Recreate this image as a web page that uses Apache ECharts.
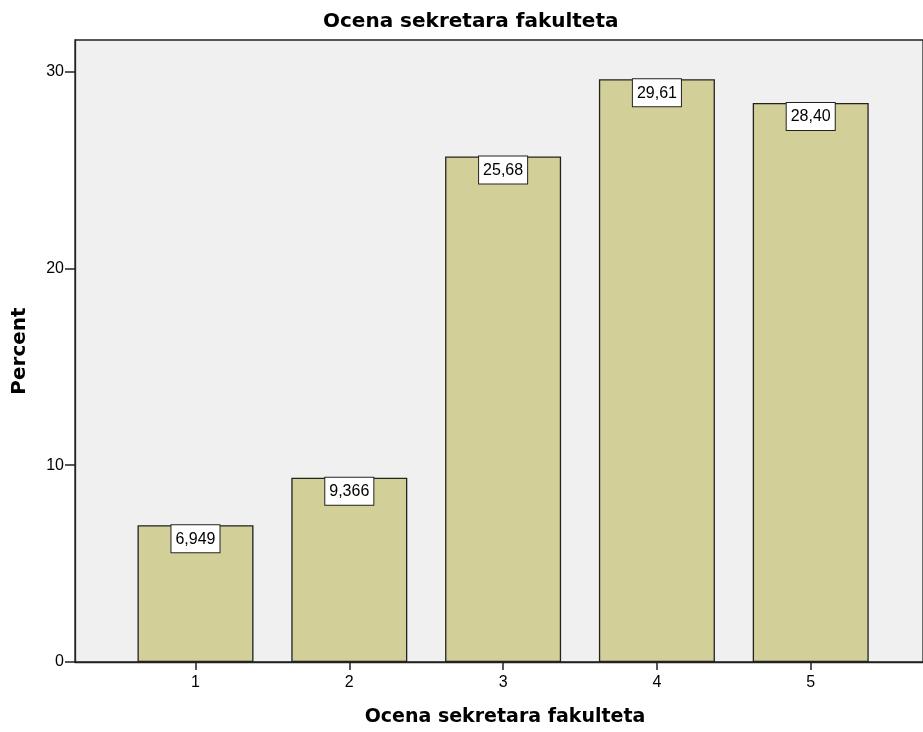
<!DOCTYPE html>
<html>
<head>
<meta charset="utf-8">
<script src="https://cdn.jsdelivr.net/npm/echarts@6/dist/echarts.min.js"></script>
<style>
html,body{margin:0;padding:0;background:#fff;}
#chart{width:923px;height:732px;}
</style>
</head>
<body>
<div id="chart"></div>
<script>
var categories = [1, 2, 3, 4, 5];
var percents = [6.949, 9.366, 25.68, 29.61, 28.40];
var yTicks = [0, 10, 20, 30];
var titleText = 'Ocena sekretara fakulteta';
var xTitle = 'Ocena sekretara fakulteta';
var yTitle = 'Percent';

var FONT = 'Liberation Sans, Arial, sans-serif';
var BOLD = 'DejaVu Sans, Liberation Sans, sans-serif';
var chart = echarts.init(document.getElementById('chart'));
var seriesData = categories.map(function (c, i) { return [c, percents[i]]; });

chart.setOption({
  animation: false,
  backgroundColor: '#ffffff',
  title: {
    text: titleText,
    left: 318,
    top: 7,
    textStyle: { fontFamily: BOLD, fontSize: 20, fontWeight: 'bold', color: '#000' }
  },
  grid: {
    left: 75, top: 40, right: -5, bottom: 68.5,
    show: true, backgroundColor: '#f0f0f0', borderColor: '#222', borderWidth: 1.3,
    containLabel: false
  },
  xAxis: {
    type: 'value',
    min: 0.2166,
    max: 5.73,
    name: xTitle,
    nameLocation: 'middle',
    nameGap: 46,
    nameTextStyle: { fontFamily: BOLD, fontSize: 19, fontWeight: 'bold', color: '#000', padding: [0, 0, 0, 12] },
    axisLine: { show: true, onZero: false, lineStyle: { color: '#222', width: 1.3 } },
    axisTick: { show: true, customValues: categories, length: 8, lineStyle: { color: '#222', width: 1.5 } },
    axisLabel: { customValues: categories, fontFamily: FONT, fontSize: 16, color: '#000', margin: 13 },
    splitLine: { show: false }
  },
  yAxis: {
    type: 'value',
    min: 0,
    max: 31.6,
    name: yTitle,
    nameLocation: 'middle',
    nameGap: 45,
    nameRotate: 90,
    nameTextStyle: { fontFamily: BOLD, fontSize: 20, fontWeight: 'bold', color: '#000' },
    axisLine: { show: true, lineStyle: { color: '#222', width: 1.3 } },
    axisTick: { show: true, customValues: yTicks, length: 10, lineStyle: { color: '#222', width: 1.5 } },
    axisLabel: { customValues: yTicks, fontFamily: FONT, fontSize: 16, color: '#000', margin: 11 },
    splitLine: { show: false }
  },
  series: [{
    type: 'bar',
    data: seriesData,
    barWidth: 116,
    itemStyle: { color: '#d3cf98', borderColor: '#222', borderWidth: 1.3 },
    label: {
      show: true,
      position: 'insideTop',
      distance: 0,
      formatter: function (p) { return p.value[1].toPrecision(4).replace('.', ','); },
      fontFamily: FONT,
      fontSize: 16,
      lineHeight: 18,
      color: '#000',
      backgroundColor: '#ffffff',
      borderColor: '#222',
      borderWidth: 1,
      padding: [5, 4, 4, 4]
    }
  }]
});
</script>
</body>
</html>
